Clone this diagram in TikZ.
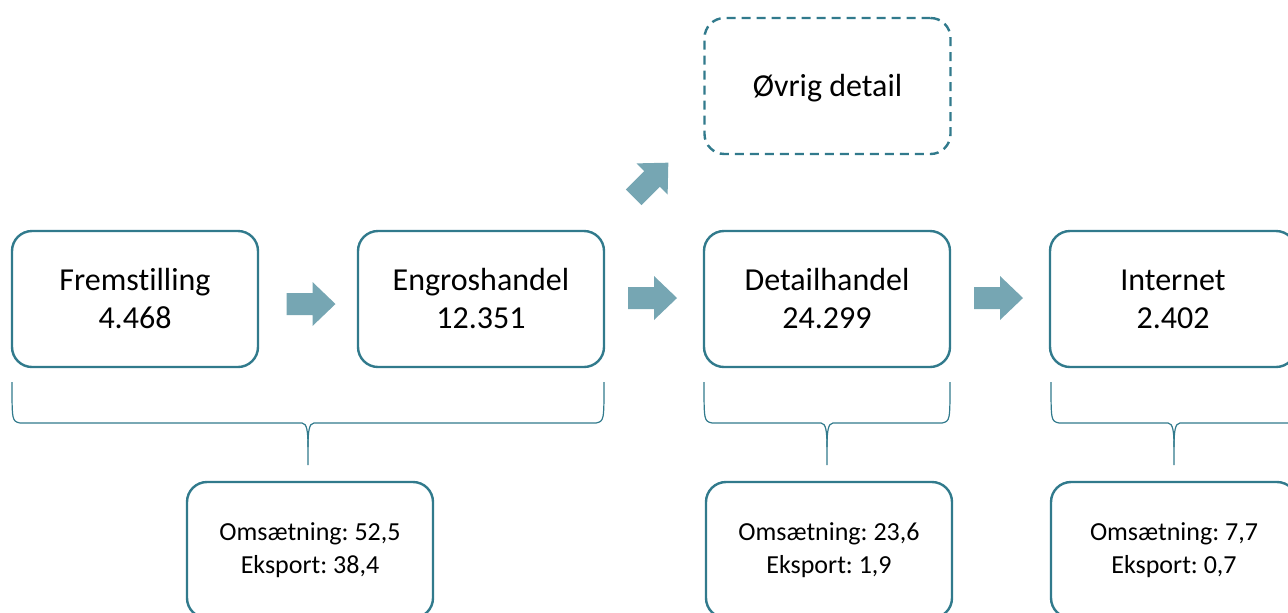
\documentclass[tikz,border=0pt]{standalone}
\usepackage{fontspec}
\setmainfont{Carlito}[RawFeature={-liga;-clig;-calt}]

\definecolor{boxline}{RGB}{49,122,140}
\definecolor{arrowfill}{RGB}{118,166,179}

\tikzset{
  stage/.style={draw=boxline, line width=1.2pt, rounded corners=10pt,
                minimum width=123pt, minimum height=68pt, align=center,
                font=\fontsize{16}{19}\selectfont},
  dashstage/.style={stage, dash pattern=on 4.5pt off 3pt},
  keybox/.style={stage, font=\fontsize{13}{16.3}\selectfont},
  bracket/.style={draw=boxline, line width=0.6pt},
  blockarrow/.style={fill=arrowfill, draw=none}
}

\frenchspacing

\begin{document}
\begin{tikzpicture}[x=0.5pt, y=-0.5pt]
  \clip (0,0) rectangle (1288,612);

  % top row
  \node[stage] (fremstilling) at (135,299) {Fremstilling\\4.468};
  \node[stage] (engros) at (481,299) {Engroshandel\\12.351};
  \node[stage] (detail) at (827,299) {Detailhandel\\24.299};
  \node[stage] (internet) at (1173,299) {Internet\\2.402};

  \node[dashstage, text depth=1pt] (ovrig) at (827.5,86) {Øvrig detail};

  % bottom row
  \node[keybox] (omsFE) at (310,550) {Omsætning: 52,5\\Eksport: 38,4};
  \node[keybox] (omsDH) at (829,550) {Omsætning: 23,6\\Eksport: 1,9};
  \node[keybox] (omsIN) at (1174,550) {Omsætning: 7,7\\Eksport: 0,7};

  % block arrows
  \foreach \x/\y/\a in {311/304/0, 652.5/298/0, 998.5/298/0, 651/180/45}
    {
      \filldraw[blockarrow, shift={(\x,\y)}, rotate=\a]
        (-24.5,-11) -- (1.5,-11) -- (1.5,-22) -- (24.5,0)
        -- (1.5,22) -- (1.5,11) -- (-24.5,11) -- cycle;
    }

  % braces
  \foreach \l/\m/\r in {12/308/604, 704/827/950, 1051/1174/1297}
    {
      \draw[bracket] (\l,382) .. controls (\l,421) .. (\l+8,423) -- (\m-6,423)
                     .. controls (\m-1,423) and (\m,432) .. (\m,447) -- (\m,465);
      \draw[bracket] (\r,382) .. controls (\r,421) .. (\r-8,423) -- (\m+6,423)
                     .. controls (\m+1,423) and (\m,432) .. (\m,447);
    }

\end{tikzpicture}
\end{document}
